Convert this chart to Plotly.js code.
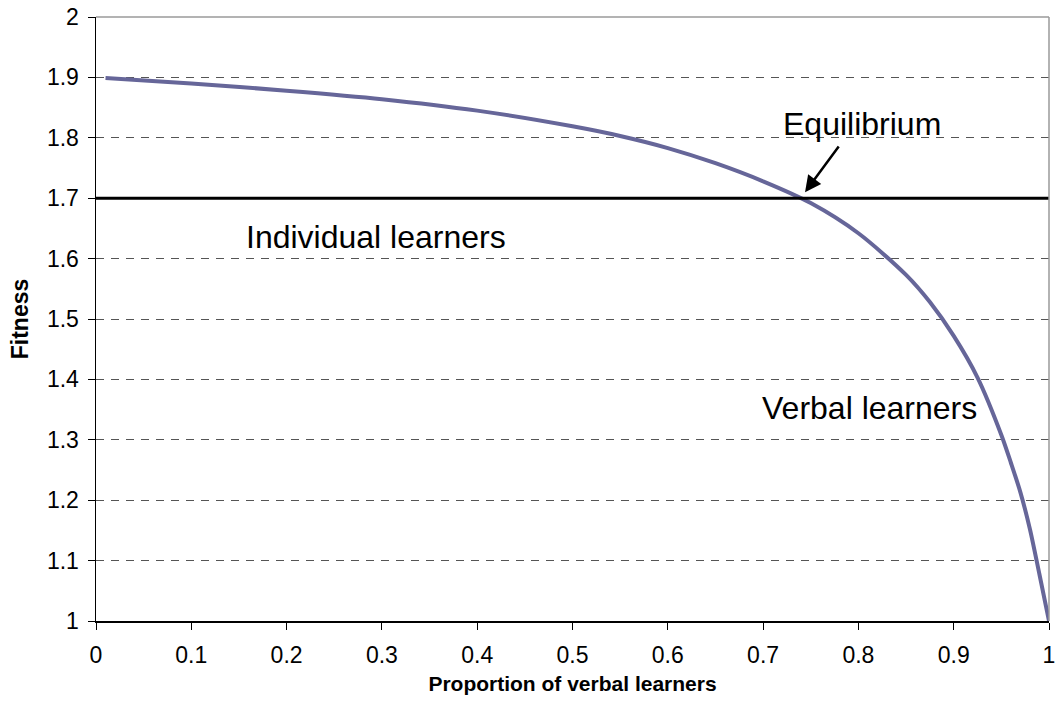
<!DOCTYPE html>
<html>
<head>
<meta charset="utf-8">
<script src="https://cdn.plot.ly/plotly-3.0.1.min.js"></script>
<style>
  html, body { margin: 0; padding: 0; background: #ffffff; }
  #chart { width: 1057px; height: 711px; }
</style>
</head>
<body>
<div id="chart"></div>
<script>
// Proportion of verbal learners (x) and fitness of verbal learners (y)
const verbalProportion = [0.01, 0.1, 0.2, 0.3, 0.4, 0.5, 0.55, 0.6, 0.65, 0.7, 0.75, 0.8, 0.85, 0.875, 0.9, 0.925, 0.95, 0.96, 0.97, 0.98, 0.99, 1.0];
const verbalFitness    = [1.899, 1.890, 1.878, 1.864, 1.845, 1.819, 1.803, 1.783, 1.758, 1.728, 1.692, 1.642, 1.573, 1.528, 1.472, 1.403, 1.308, 1.262, 1.213, 1.152, 1.077, 1.0];

// Individual learners: constant fitness
const individualProportion = [0, 1];
const individualFitness = [1.7, 1.7];

// Equilibrium point (where the curves cross) and label texts
const equilibriumX = 0.744;
const equilibriumY = 1.70;
const labels = {
  individual: "Individual learners",
  verbal: "Verbal learners",
  equilibrium: "Equilibrium"
};
const xTitle = "Proportion of verbal learners";
const yTitle = "Fitness";

const FONT = "Liberation Sans, Arial, Helvetica, sans-serif";

const traces = [
  {
    x: verbalProportion,
    y: verbalFitness,
    type: "scatter",
    mode: "lines",
    line: { color: "#666699", width: 4, shape: "spline", smoothing: 0.8 },
    hoverinfo: "skip",
    showlegend: false
  },
  {
    x: individualProportion,
    y: individualFitness,
    type: "scatter",
    mode: "lines",
    line: { color: "#000000", width: 3 },
    hoverinfo: "skip",
    showlegend: false
  }
];

const layout = {
  width: 1057,
  height: 711,
  margin: { l: 96, r: 8, t: 17, b: 90, pad: 0 },
  paper_bgcolor: "#ffffff",
  plot_bgcolor: "#ffffff",
  showlegend: false,
  font: { family: FONT, color: "#000000" },
  xaxis: {
    range: [0, 1],
    dtick: 0.1,
    tick0: 0,
    ticks: "outside",
    ticklen: 7,
    tickwidth: 1,
    tickcolor: "#000000",
    ticklabelstandoff: 6,
    showline: true,
    linecolor: "#000000",
    linewidth: 1.5,
    showgrid: false,
    zeroline: false,
    tickfont: { family: FONT, size: 23, color: "#000000" },
    title: {
      text: "<b>" + xTitle + "</b>",
      font: { family: FONT, size: 21, color: "#000000" },
      standoff: 9
    }
  },
  yaxis: {
    range: [1, 2],
    dtick: 0.1,
    tick0: 1,
    ticks: "outside",
    ticklen: 7,
    tickwidth: 1,
    tickcolor: "#000000",
    ticklabelstandoff: 4,
    showline: true,
    linecolor: "#000000",
    linewidth: 1.5,
    showgrid: true,
    gridcolor: "#555555",
    gridwidth: 1,
    griddash: "8px,7px",
    zeroline: false,
    tickfont: { family: FONT, size: 23, color: "#000000" },
    title: {
      text: "<b>" + yTitle + "</b>",
      font: { family: FONT, size: 23, color: "#000000" },
      standoff: 12
    }
  },
  shapes: [
    { type: "line", xref: "paper", yref: "paper", x0: 0, x1: 1, y0: 1, y1: 1,
      line: { color: "#9a9a9a", width: 1.5 }, layer: "above" },
    { type: "line", xref: "paper", yref: "paper", x0: 1, x1: 1, y0: 0, y1: 1,
      line: { color: "#9a9a9a", width: 1.5 }, layer: "above" }
  ],
  annotations: [
    { text: labels.individual, xref: "x", yref: "y", x: 0.2935, y: 1.635,
      showarrow: false, xanchor: "center", yanchor: "middle",
      font: { family: FONT, size: 32, color: "#000000" } },
    { text: labels.verbal, xref: "x", yref: "y", x: 0.812, y: 1.353,
      showarrow: false, xanchor: "center", yanchor: "middle",
      font: { family: FONT, size: 32, color: "#000000" } },
    { text: labels.equilibrium, xref: "x", yref: "y", x: 0.8035, y: 1.823,
      showarrow: false, xanchor: "center", yanchor: "middle",
      font: { family: FONT, size: 32, color: "#000000" } },
    { text: "", xref: "x", yref: "y", x: equilibriumX, y: equilibriumY + 0.01,
      axref: "x", ayref: "y", ax: 0.7805, ay: 1.788,
      showarrow: true, arrowhead: 2, arrowsize: 1.3, arrowwidth: 2.5,
      arrowcolor: "#000000", standoff: 0 }
  ]
};

Plotly.newPlot("chart", traces, layout, { staticPlot: true, displayModeBar: false });
</script>
</body>
</html>
